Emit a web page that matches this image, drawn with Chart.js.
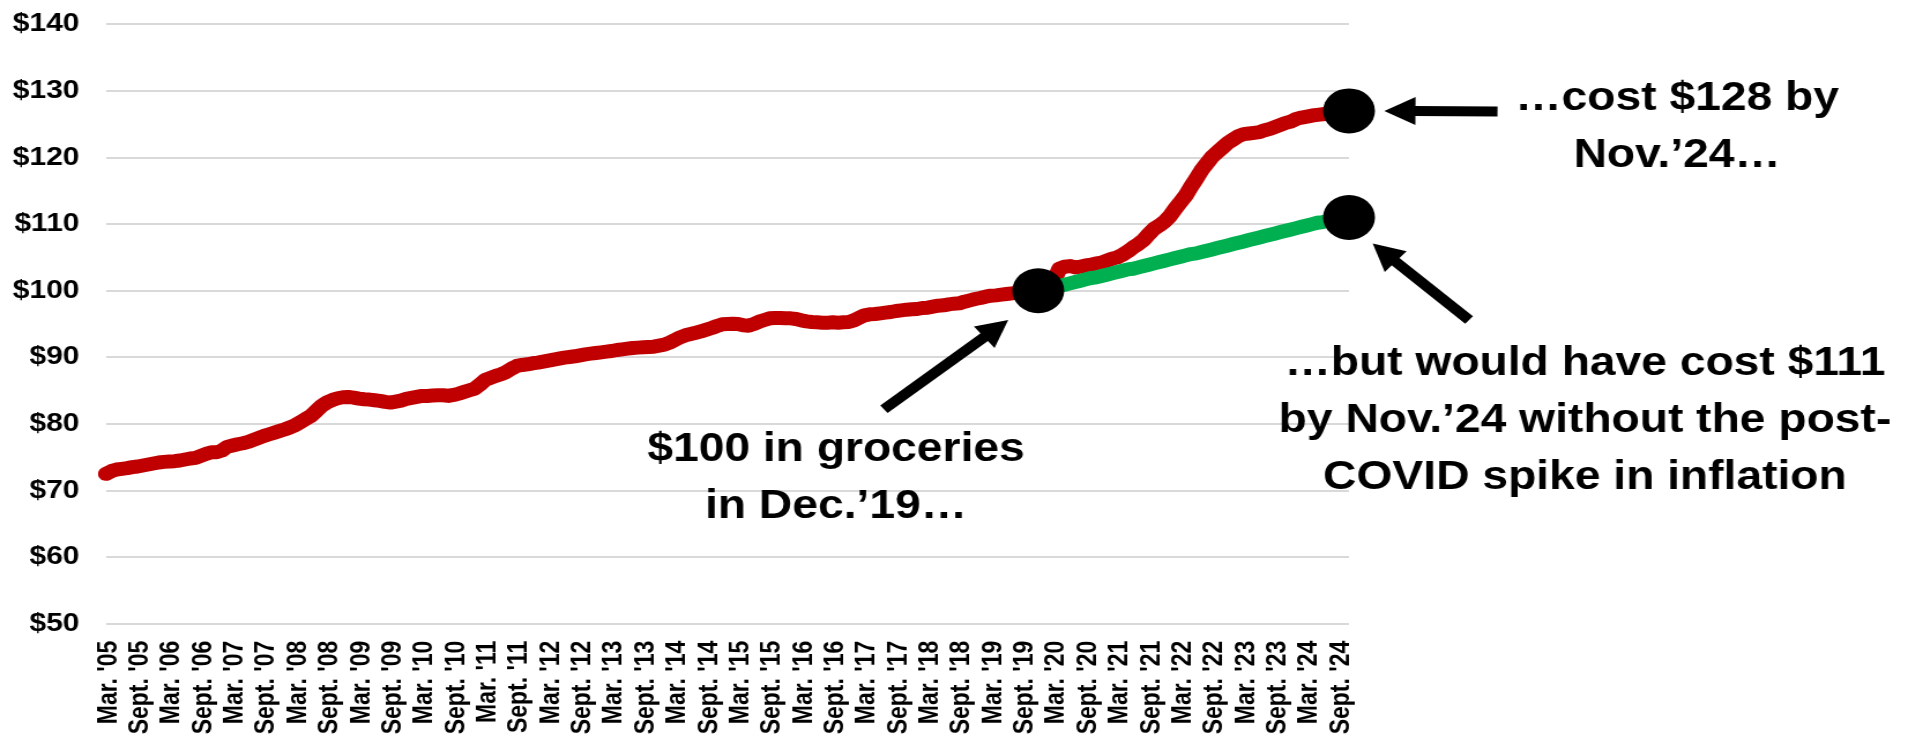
<!DOCTYPE html>
<html>
<head>
<meta charset="utf-8">
<title>Cost of $100 in groceries</title>
<script src="https://cdn.jsdelivr.net/npm/chart.js@4.4.1/dist/chart.umd.min.js"></script>
<style>
    html, body { margin: 0; padding: 0; background: #ffffff; overflow: hidden; }
    #grocery-chart { display: block; }
</style>
</head>
<body>
<!-- drawn narrower and stretched to 1923 wide, like the source slide -->
<canvas id="grocery-chart" width="1665" height="738" style="width:1923px;height:738px"></canvas>
<script>
//********************************************************************************
///Data (monthly, Mar. 2005 - Nov. 2024, Dec. 2019 = $100)
//********************************************************************************
const actual2005 = [72.5, 72.9, 73.15, 73.25, 73.35, 73.5, 73.6, 73.75, 73.9, 74.05];
const actual2006 = [74.2, 74.3, 74.35, 74.4, 74.5, 74.65, 74.8, 74.9, 75.2, 75.5, 75.75, 75.75];
const actual2007 = [76.0, 76.55, 76.75, 76.95, 77.1, 77.3, 77.6, 77.9, 78.2, 78.45, 78.7, 78.95];
const actual2008 = [79.2, 79.5, 79.85, 80.3, 80.8, 81.25, 82.0, 82.75, 83.25, 83.6, 83.85, 84.0];
const actual2009 = [84.05, 83.95, 83.8, 83.7, 83.65, 83.55, 83.45, 83.3, 83.2, 83.35, 83.5, 83.75];
const actual2010 = [83.9, 84.05, 84.2, 84.2, 84.25, 84.3, 84.3, 84.2, 84.35, 84.55, 84.8, 85.05];
const actual2011 = [85.3, 85.9, 86.6, 86.9, 87.2, 87.45, 87.8, 88.3, 88.7, 88.85, 88.95, 89.1];
const actual2012 = [89.2, 89.35, 89.5, 89.65, 89.8, 89.95, 90.05, 90.15, 90.3, 90.45, 90.55, 90.65];
const actual2013 = [90.75, 90.85, 90.95, 91.1, 91.2, 91.3, 91.4, 91.45, 91.5, 91.55, 91.6, 91.75];
const actual2014 = [91.9, 92.2, 92.6, 93.0, 93.3, 93.5, 93.7, 93.9, 94.15, 94.4, 94.7, 94.95];
const actual2015 = [95.0, 95.05, 95.0, 94.8, 94.75, 95.0, 95.35, 95.6, 95.85, 95.9, 95.9, 95.85];
const actual2016 = [95.85, 95.75, 95.55, 95.4, 95.3, 95.25, 95.2, 95.2, 95.25, 95.2, 95.25, 95.3];
const actual2017 = [95.55, 95.95, 96.3, 96.45, 96.5, 96.6, 96.7, 96.8, 96.95, 97.05, 97.15, 97.2];
const actual2018 = [97.25, 97.4, 97.45, 97.6, 97.75, 97.8, 97.95, 98.05, 98.1, 98.35, 98.55, 98.75];
const actual2019 = [98.9, 99.1, 99.25, 99.3, 99.4, 99.5, 99.6, 99.7, 99.8, 99.9, 100.0, 100.0];
const actual2020 = [100.3, 100.5, 101.5, 103.3, 103.6, 103.7, 103.5, 103.6, 103.8, 103.9, 104.1, 104.2];
const actual2021 = [104.5, 104.8, 105.0, 105.4, 105.9, 106.5, 107.0, 107.6, 108.5, 109.3, 109.8, 110.4];
const actual2022 = [111.2, 112.3, 113.3, 114.3, 115.6, 116.8, 118.1, 119.1, 120.1, 120.8, 121.5, 122.2];
const actual2023 = [122.7, 123.2, 123.5, 123.6, 123.7, 123.8, 124.1, 124.3, 124.6, 124.9, 125.2, 125.4];
const actual2024 = [125.8, 126.0, 126.15, 126.3, 126.4, 126.5, 126.6, 126.7, 126.8, 126.9, 127.0];

// pre-COVID trend, starts at Dec. 2019
const trend2019 = [100.0];
const trend2020 = [100.2, 100.4, 100.6, 100.7, 100.9, 101.1, 101.3, 101.5, 101.7, 101.9, 102.0, 102.2];
const trend2021 = [102.4, 102.6, 102.8, 103.0, 103.2, 103.3, 103.5, 103.7, 103.9, 104.1, 104.3, 104.5];
const trend2022 = [104.7, 104.9, 105.1, 105.3, 105.5, 105.6, 105.8, 106.0, 106.2, 106.4, 106.6, 106.8];
const trend2023 = [107.0, 107.2, 107.4, 107.6, 107.8, 108.0, 108.2, 108.4, 108.6, 108.8, 109.0, 109.2];
const trend2024 = [109.4, 109.6, 109.8, 110.0, 110.2, 110.3, 110.5, 110.6, 110.8, 110.9, 111.0];

const yTicks = [50, 60, 70, 80, 90, 100, 110, 120, 130, 140];
const monthNames = ['Jan.', 'Feb.', 'Mar.', 'Apr.', 'May', 'June', 'July', 'Aug.', 'Sept.', 'Oct.', 'Nov.', 'Dec.'];
const tickMonths = ['Mar.', 'Sept.'];

const actual = [].concat(actual2005, actual2006, actual2007, actual2008, actual2009, actual2010,
    actual2011, actual2012, actual2013, actual2014, actual2015, actual2016, actual2017,
    actual2018, actual2019, actual2020, actual2021, actual2022, actual2023, actual2024);
const trendValues = [].concat(trend2019, trend2020, trend2021, trend2022, trend2023, trend2024);

// categories: one per month, starting Mar. 2005
const categories = [];
const tickLabels = [];
for (let i = 0; i < actual.length; i++) {
    const month = (2 + i) % 12;
    const year = 2005 + Math.floor((2 + i) / 12);
    const name = monthNames[month];
    categories.push(`${name} ${year}`);
    tickLabels.push(tickMonths.includes(name) ? `${name} '${String(year).slice(2)}` : '');
}

const trendStart = categories.indexOf('Dec. 2019');
const lastMonth = categories.length - 1;
const trend = Array(trendStart).fill(null).concat(trendValues);

//********************************************************************************
///Annotations (positions in month index / dollar units)
//********************************************************************************
const notes = [
    { lines: ['$100 in groceries', 'in Dec.’19…'], at: [138.6, 74.4] },
    { lines: ['…cost $128 by', 'Nov.’24…'], at: [298.3, 127.1] },
    { lines: ['…but would have cost $111', 'by Nov.’24 without the post-', 'COVID spike in inflation'], at: [280.8, 87.4] }
];
const arrows = [
    { from: [147.7, 82.2], to: [171.3, 95.6] },
    { from: [264.2, 126.9], to: [242.7, 127.0] },
    { from: [258.8, 95.6], to: [240.5, 107.1] }
];
const fontFamily = '"Liberation Sans", Arial, sans-serif';

function drawArrow(ctx, x1, y1, x2, y2) {
    const headLen = 27;
    const headHalf = 14;
    const angle = Math.atan2(y2 - y1, x2 - x1);
    const bx = x2 - headLen * Math.cos(angle);
    const by = y2 - headLen * Math.sin(angle);

    ctx.lineWidth = 10;
    ctx.lineCap = 'butt';
    ctx.beginPath();
    ctx.moveTo(x1, y1);
    ctx.lineTo(bx + 2 * Math.cos(angle), by + 2 * Math.sin(angle));
    ctx.stroke();

    ctx.beginPath();
    ctx.moveTo(x2, y2);
    ctx.lineTo(bx - headHalf * Math.sin(angle), by + headHalf * Math.cos(angle));
    ctx.lineTo(bx + headHalf * Math.sin(angle), by - headHalf * Math.cos(angle));
    ctx.closePath();
    ctx.fill();
}

const notesPlugin = {
    id: 'groceryNotes',
    afterDraw(chart) {
        const ctx = chart.ctx;
        const xs = chart.scales.x;
        const ys = chart.scales.y;
        ctx.save();
        ctx.fillStyle = '#000000';
        ctx.strokeStyle = '#000000';

        arrows.forEach(a => {
            drawArrow(ctx,
                xs.getPixelForValue(a.from[0]), ys.getPixelForValue(a.from[1]),
                xs.getPixelForValue(a.to[0]), ys.getPixelForValue(a.to[1]));
        });

        ctx.font = `bold 40px ${fontFamily}`;
        ctx.textAlign = 'center';
        ctx.textBaseline = 'alphabetic';
        notes.forEach(n => {
            const x = xs.getPixelForValue(n.at[0]);
            let y = ys.getPixelForValue(n.at[1]);
            n.lines.forEach(line => {
                ctx.fillText(line, x, y);
                y += 57;
            });
        });
        ctx.restore();
    }
};

//********************************************************************************
///Chart
//********************************************************************************
const chart = new Chart(document.getElementById('grocery-chart'), {
    type: 'line',
    data: {
        labels: categories,
        datasets: [
            {
                // the three black dots
                label: 'Markers',
                data: [
                    { x: categories[trendStart], y: actual[trendStart] },
                    { x: categories[lastMonth], y: actual[lastMonth] },
                    { x: categories[lastMonth], y: trend[lastMonth] }
                ],
                showLine: false,
                pointStyle: 'circle',
                pointRadius: 22.5,
                pointHoverRadius: 22.5,
                pointBackgroundColor: '#000000',
                pointBorderWidth: 0,
                clip: false
            },
            {
                label: 'Without post-COVID spike',
                data: trend,
                borderColor: '#00B050',
                borderWidth: 14,
                borderCapStyle: 'round',
                borderJoinStyle: 'round',
                pointRadius: 0,
                tension: 0
            },
            {
                label: 'Actual',
                data: actual,
                borderColor: '#C00000',
                borderWidth: 14,
                borderCapStyle: 'round',
                borderJoinStyle: 'round',
                pointRadius: 0,
                tension: 0
            }
        ]
    },
    options: {
        responsive: false,
        devicePixelRatio: 1,
        animation: false,
        events: [],
        layout: {
            padding: { top: 24.3, right: 497, bottom: 0, left: 0 }
        },
        plugins: {
            legend: { display: false },
            tooltip: { enabled: false }
        },
        scales: {
            x: {
                type: 'category',
                grid: { display: false, drawTicks: false },
                border: { display: false },
                ticks: {
                    autoSkip: false,
                    minRotation: 90,
                    maxRotation: 90,
                    padding: 17,
                    labelOffset: 2.5,
                    color: '#000000',
                    font: { family: fontFamily, size: 23, weight: 'bold' },
                    callback: (value, index) => tickLabels[index]
                },
                afterFit: (scale) => {
                    scale.height = 114.3;
                    scale.paddingLeft = 0;
                    scale.paddingRight = 0;
                }
            },
            y: {
                min: yTicks[0],
                max: yTicks[yTicks.length - 1],
                afterBuildTicks: (scale) => { scale.ticks = yTicks.map(v => ({ value: v })); },
                grid: { color: '#D9D9D9', lineWidth: 2, drawTicks: false },
                border: { display: false },
                ticks: {
                    padding: 23,
                    color: '#000000',
                    font: { family: fontFamily, size: 26, weight: 'bold' },
                    callback: (value) => '$' + value
                },
                afterFit: (scale) => {
                    scale.width = 91.8;
                    scale.paddingTop = 0;
                    scale.paddingBottom = 0;
                }
            }
        }
    },
    plugins: [notesPlugin]
});
</script>
</body>
</html>
